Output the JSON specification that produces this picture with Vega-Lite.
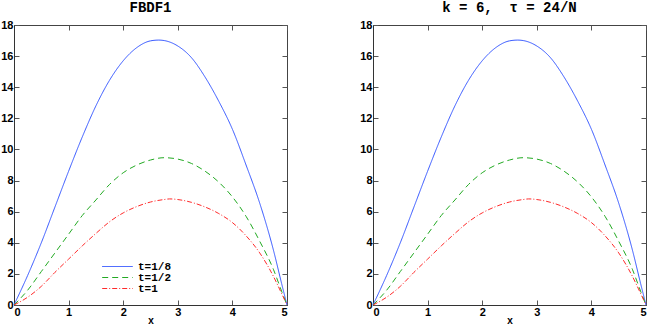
{
  "$schema": "https://vega.github.io/schema/vega-lite/v6.json",
  "padding": {"left": 0, "top": 0, "right": 2, "bottom": 0},
  "background": "white",
  "datasets": {
    "curves": [
      {"x": 0, "y": 0, "s": "t=1/8"},
      {"x": 0.25, "y": 1.9, "s": "t=1/8"},
      {"x": 0.5, "y": 4.0, "s": "t=1/8"},
      {"x": 0.75, "y": 6.3, "s": "t=1/8"},
      {"x": 1.0, "y": 8.6, "s": "t=1/8"},
      {"x": 1.25, "y": 10.8, "s": "t=1/8"},
      {"x": 1.5, "y": 12.8, "s": "t=1/8"},
      {"x": 1.75, "y": 14.45, "s": "t=1/8"},
      {"x": 2.0, "y": 15.7, "s": "t=1/8"},
      {"x": 2.25, "y": 16.55, "s": "t=1/8"},
      {"x": 2.5, "y": 16.98, "s": "t=1/8"},
      {"x": 2.65, "y": 17.03, "s": "t=1/8"},
      {"x": 2.75, "y": 17.0, "s": "t=1/8"},
      {"x": 3.0, "y": 16.65, "s": "t=1/8"},
      {"x": 3.25, "y": 15.9, "s": "t=1/8"},
      {"x": 3.5, "y": 14.65, "s": "t=1/8"},
      {"x": 3.75, "y": 13.1, "s": "t=1/8"},
      {"x": 4.0, "y": 11.3, "s": "t=1/8"},
      {"x": 4.25, "y": 9.0, "s": "t=1/8"},
      {"x": 4.5, "y": 6.55, "s": "t=1/8"},
      {"x": 4.75, "y": 3.55, "s": "t=1/8"},
      {"x": 4.9, "y": 1.4, "s": "t=1/8"},
      {"x": 5.0, "y": 0, "s": "t=1/8"},
      {"x": 0, "y": 0, "s": "t=1/2"},
      {"x": 0.25, "y": 0.95, "s": "t=1/2"},
      {"x": 0.5, "y": 2.15, "s": "t=1/2"},
      {"x": 0.75, "y": 3.35, "s": "t=1/2"},
      {"x": 1.0, "y": 4.55, "s": "t=1/2"},
      {"x": 1.25, "y": 5.75, "s": "t=1/2"},
      {"x": 1.5, "y": 6.75, "s": "t=1/2"},
      {"x": 1.75, "y": 7.75, "s": "t=1/2"},
      {"x": 2.0, "y": 8.5, "s": "t=1/2"},
      {"x": 2.25, "y": 9.0, "s": "t=1/2"},
      {"x": 2.5, "y": 9.32, "s": "t=1/2"},
      {"x": 2.75, "y": 9.47, "s": "t=1/2"},
      {"x": 3.0, "y": 9.38, "s": "t=1/2"},
      {"x": 3.25, "y": 9.1, "s": "t=1/2"},
      {"x": 3.5, "y": 8.6, "s": "t=1/2"},
      {"x": 3.75, "y": 7.9, "s": "t=1/2"},
      {"x": 4.0, "y": 6.95, "s": "t=1/2"},
      {"x": 4.25, "y": 5.7, "s": "t=1/2"},
      {"x": 4.5, "y": 4.1, "s": "t=1/2"},
      {"x": 4.75, "y": 2.3, "s": "t=1/2"},
      {"x": 4.9, "y": 0.9, "s": "t=1/2"},
      {"x": 5.0, "y": 0, "s": "t=1/2"},
      {"x": 0, "y": 0, "s": "t=1"},
      {"x": 0.25, "y": 0.5, "s": "t=1"},
      {"x": 0.5, "y": 1.2, "s": "t=1"},
      {"x": 0.75, "y": 2.1, "s": "t=1"},
      {"x": 1.0, "y": 2.95, "s": "t=1"},
      {"x": 1.25, "y": 3.8, "s": "t=1"},
      {"x": 1.5, "y": 4.6, "s": "t=1"},
      {"x": 1.75, "y": 5.35, "s": "t=1"},
      {"x": 2.0, "y": 5.92, "s": "t=1"},
      {"x": 2.25, "y": 6.33, "s": "t=1"},
      {"x": 2.5, "y": 6.62, "s": "t=1"},
      {"x": 2.75, "y": 6.78, "s": "t=1"},
      {"x": 2.85, "y": 6.82, "s": "t=1"},
      {"x": 3.0, "y": 6.78, "s": "t=1"},
      {"x": 3.25, "y": 6.6, "s": "t=1"},
      {"x": 3.5, "y": 6.3, "s": "t=1"},
      {"x": 3.75, "y": 5.88, "s": "t=1"},
      {"x": 4.0, "y": 5.3, "s": "t=1"},
      {"x": 4.25, "y": 4.45, "s": "t=1"},
      {"x": 4.5, "y": 3.35, "s": "t=1"},
      {"x": 4.75, "y": 1.85, "s": "t=1"},
      {"x": 4.9, "y": 0.75, "s": "t=1"},
      {"x": 5.0, "y": 0, "s": "t=1"}
    ]
  },
  "spacing": 68,
  "resolve": {"legend": {"color": "independent", "strokeDash": "independent"}},
  "hconcat": [
    {
      "width": 273,
      "height": 280,
      "title": {"text": "FBDF1"},
      "data": {"name": "curves"},
      "layer": [
        {
          "mark": {"type": "line", "strokeWidth": 1, "interpolate": "monotone"},
          "encoding": {
            "x": {"field": "x", "type": "quantitative", "scale": {"domain": [0, 5], "nice": false}, "axis": {"orient": "bottom", "values": [0, 1, 2, 3, 4, 5], "title": "x"}},
            "y": {"field": "y", "type": "quantitative", "scale": {"domain": [0, 18], "nice": false}, "axis": {"orient": "left", "values": [0, 2, 4, 6, 8, 10, 12, 14, 16, 18], "title": null}},
            "color": {"field": "s", "type": "nominal", "scale": {"domain": ["t=1/8", "t=1/2", "t=1"], "range": ["#3355ff", "#22aa22", "#ff2a2a"]},
              "legend": {"orient": "none", "legendX": 98, "legendY": 236, "title": null, "symbolType": "M-3.4,0H3.4", "symbolSize": 81, "symbolStrokeWidth": 1, "labelFont": "Liberation Mono", "labelFontWeight": "bold", "labelFontSize": 11, "labelOffset": 15, "rowPadding": -1}},
            "strokeDash": {"field": "s", "type": "nominal", "scale": {"domain": ["t=1/8", "t=1/2", "t=1"], "range": [[1, 0], [6, 4], [5, 2, 1, 2]]},
              "legend": {"orient": "none", "legendX": 98, "legendY": 236, "title": null, "symbolType": "M-3.4,0H3.4", "symbolSize": 81, "symbolStrokeWidth": 1, "labelFont": "Liberation Mono", "labelFontWeight": "bold", "labelFontSize": 11, "labelOffset": 15, "rowPadding": -1}}
          }
        },
        {
          "mark": {"type": "point", "opacity": 0},
          "encoding": {
            "x": {"field": "x", "type": "quantitative", "axis": {"orient": "top", "values": [0, 1, 2, 3, 4, 5], "labels": false, "title": null, "domain": false}},
            "y": {"field": "y", "type": "quantitative", "axis": {"orient": "right", "values": [0, 2, 4, 6, 8, 10, 12, 14, 16, 18], "labels": false, "title": null, "domain": false}}
          }
        }
      ]
    },
    {
      "width": 273,
      "height": 280,
      "title": {"text": "k = 6,\u00a0\u00a0τ = 24/N"},
      "data": {"name": "curves"},
      "layer": [
        {
          "mark": {"type": "line", "strokeWidth": 1, "interpolate": "monotone"},
          "encoding": {
            "x": {"field": "x", "type": "quantitative", "scale": {"domain": [0, 5], "nice": false}, "axis": {"orient": "bottom", "values": [0, 1, 2, 3, 4, 5], "title": "x"}},
            "y": {"field": "y", "type": "quantitative", "scale": {"domain": [0, 18], "nice": false}, "axis": {"orient": "left", "values": [0, 2, 4, 6, 8, 10, 12, 14, 16, 18], "title": null}},
            "color": {"field": "s", "type": "nominal", "scale": {"domain": ["t=1/8", "t=1/2", "t=1"], "range": ["#3355ff", "#22aa22", "#ff2a2a"]}, "legend": null},
            "strokeDash": {"field": "s", "type": "nominal", "scale": {"domain": ["t=1/8", "t=1/2", "t=1"], "range": [[1, 0], [6, 4], [5, 2, 1, 2]]}, "legend": null}
          }
        },
        {
          "mark": {"type": "point", "opacity": 0},
          "encoding": {
            "x": {"field": "x", "type": "quantitative", "axis": {"orient": "top", "values": [0, 1, 2, 3, 4, 5], "labels": false, "title": null, "domain": false}},
            "y": {"field": "y", "type": "quantitative", "axis": {"orient": "right", "values": [0, 2, 4, 6, 8, 10, 12, 14, 16, 18], "labels": false, "title": null, "domain": false}}
          }
        }
      ]
    }
  ],
  "config": {
    "view": {"stroke": "#444444", "strokeWidth": 1},
    "axis": {
      "grid": false,
      "domainColor": "#333333",
      "tickColor": "#555555",
      "tickSize": -5,
      "labelPadding": 6,
      "labelFont": "Liberation Sans",
      "labelFontWeight": "bold",
      "labelFontSize": 11,
      "labelColor": "#000000",
      "titleFont": "Liberation Mono",
      "titleFontWeight": "bold",
      "titleFontSize": 10,
      "titleColor": "#000000",
      "titlePadding": -2
    },
    "title": {"font": "Liberation Mono", "fontSize": 14, "fontWeight": "bold", "color": "#000000", "offset": 4}
  }
}
